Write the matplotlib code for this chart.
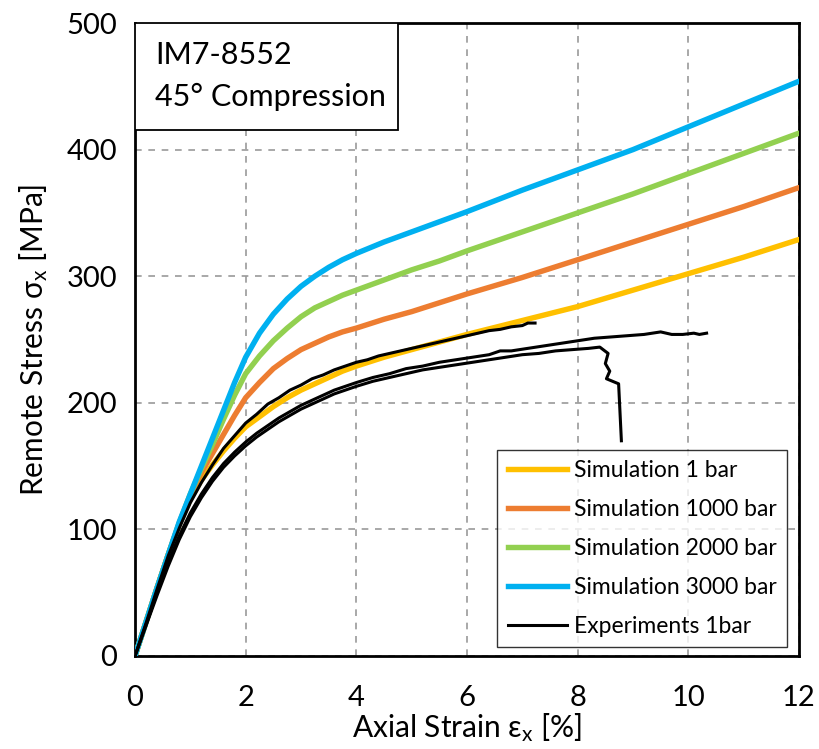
import matplotlib
matplotlib.use("Agg")
import matplotlib.pyplot as plt
from matplotlib.lines import Line2D
from matplotlib.patches import Rectangle

plt.rcParams['font.family'] = ['Lato', 'DejaVu Sans']
plt.rcParams['mathtext.fontset'] = 'custom'
plt.rcParams['mathtext.rm'] = 'Lato'
plt.rcParams['mathtext.it'] = 'Lato:italic'

# ---- data ----
sim_strain = [0, 0.2, 0.4, 0.6, 0.8, 1.0, 1.2, 1.4, 1.6, 1.8, 2.0, 2.25, 2.5, 2.75, 3.0,
              3.25, 3.5, 3.75, 4.0, 4.5, 5, 5.5, 6, 7, 8, 9, 10, 11, 12]
sim_1bar = [0, 27, 54, 80, 104, 124, 139, 151, 162, 172, 181, 189, 197, 204, 210,
            215, 220, 225, 229, 236, 242, 248, 254, 265, 276, 289, 302, 315, 329]
sim_1000 = [0, 27, 54, 80, 105, 127, 145, 160, 175, 190, 204, 216, 227, 235, 242,
            247, 252, 256, 259, 266, 272, 279, 286, 299, 313, 327, 341, 355, 370]
sim_2000 = [0, 27, 54, 80, 105, 128, 148, 167, 187, 206, 223, 237, 249, 259, 268,
            275, 280, 285, 289, 297, 305, 312, 320, 335, 350, 365, 381, 397, 413]
sim_3000 = [0, 27, 54, 80, 106, 128, 150, 172, 194, 216, 236, 255, 270, 282, 292,
            300, 307, 313, 318, 327, 335, 343, 351, 368, 384, 400, 418, 436, 454]

expA_strain = [0, 0.2, 0.4, 0.6, 0.8, 1.0, 1.2, 1.4, 1.6, 1.8, 2.0, 2.2, 2.4, 2.6, 2.8,
               3.0, 3.2, 3.4, 3.6, 3.8, 4.0, 4.2, 4.4, 4.6, 4.8, 5.0, 5.2, 5.4, 5.6, 5.8,
               6.0, 6.2, 6.4, 6.6, 6.8, 7.0, 7.1, 7.23]
expA_stress = [0, 26, 53, 79, 101, 121, 137, 151, 164, 174, 184, 191, 199, 204, 210,
               214, 219, 222, 226, 229, 232, 234, 237, 239, 241, 243, 245, 247, 249, 251,
               253, 255, 257, 258, 260, 261, 263, 263]

expB_strain = [0, 0.2, 0.4, 0.6, 0.8, 1.0, 1.2, 1.4, 1.6, 1.8, 2.0, 2.2, 2.4, 2.6, 2.8,
               3.0, 3.2, 3.4, 3.6, 3.8, 4.0, 4.3, 4.6, 4.9, 5.2, 5.5, 5.8, 6.1, 6.4, 6.6,
               6.8, 7.1, 7.4, 7.7, 8.0, 8.3, 8.6, 8.9, 9.2, 9.5, 9.7, 9.9, 10.1, 10.2, 10.33]
expB_stress = [0, 25, 50, 74, 95, 113, 128, 141, 152, 161, 169, 176, 182, 188, 193,
               198, 202, 206, 210, 213, 216, 220, 223, 227, 229, 232, 234, 236, 238, 241,
               241, 243, 245, 247, 249, 251, 252, 253, 254, 256, 254, 254, 255, 254, 255]

expC_strain = [0, 0.2, 0.4, 0.6, 0.8, 1.0, 1.2, 1.4, 1.6, 1.8, 2.0, 2.2, 2.4, 2.6, 2.8,
               3.0, 3.2, 3.4, 3.6, 3.8, 4.0, 4.3, 4.6, 4.9, 5.2, 5.5, 5.8, 6.1, 6.4, 6.7,
               7.0, 7.3, 7.6, 7.9, 8.2, 8.4, 8.55, 8.5, 8.58, 8.52, 8.74, 8.79]
expC_stress = [0, 24, 48, 71, 92, 110, 125, 138, 149, 158, 166, 173, 179, 185, 190,
               195, 199, 203, 207, 210, 213, 217, 220, 223, 226, 228, 230, 232, 234, 236,
               238, 239, 241, 242, 243, 244, 239, 231, 225, 219, 215, 170]

labels = ["Simulation 1 bar", "Simulation 1000 bar", "Simulation 2000 bar",
          "Simulation 3000 bar", "Experiments 1bar"]
colors = ["#FFC000", "#ED7D31", "#92D050", "#00B0F0", "#000000"]

# ---- figure ----
fig = plt.figure(figsize=(8.19, 7.49), dpi=100)
ax = fig.add_axes([135/819, 1-656/749, (799-135)/819, (656-23)/749])

SLW = 3.9
ELW = 2.2
for ys, c in zip([sim_1bar, sim_1000, sim_2000, sim_3000], colors[:4]):
    ax.plot(sim_strain, ys, color=c, lw=SLW, solid_capstyle='round',
            solid_joinstyle='round', zorder=3)
for xs, ys in [(expA_strain, expA_stress), (expB_strain, expB_stress), (expC_strain, expC_stress)]:
    ax.plot(xs, ys, color='black', lw=ELW, solid_joinstyle='round', zorder=4)

ax.set_xlim(0, 12)
ax.set_ylim(0, 500)
ax.set_xticks([0, 2, 4, 6, 8, 10, 12])
ax.set_yticks([0, 100, 200, 300, 400, 500])
ax.grid(True, color='#999999', linestyle=(0, (4, 4)), linewidth=1.2)
for s in ax.spines.values():
    s.set_color('black')
    s.set_linewidth(2.0)
ax.tick_params(axis='both', labelsize=21, length=0)
ax.tick_params(axis='x', pad=21)
ax.tick_params(axis='y', pad=13)

ax.set_xlabel("Axial Strain ε$_\\mathrm{x}$ [%]", fontsize=21.5, labelpad=0)
ax.set_ylabel("Remote Stress σ$_\\mathrm{x}$ [MPa]", fontsize=21.5, labelpad=12)

# title box in upper left
ax.add_patch(Rectangle((0, 1 - (130-23)/633), (398-135)/664, (130-23)/633,
                       transform=ax.transAxes, facecolor='white', edgecolor='black',
                       linewidth=1.3, zorder=6))
ax.text(20/664, 1 - (55-23)/633, "IM7-8552", transform=ax.transAxes, fontsize=22,
        va='center', ha='left', zorder=7)
ax.text(20/664, 1 - (97-23)/633, "45° Compression", transform=ax.transAxes, fontsize=22,
        va='center', ha='left', zorder=7)

handles = [Line2D([0], [0], color=c, lw=(SLW if i < 4 else ELW)) for i, c in enumerate(colors)]
leg = ax.legend(handles, labels, loc='lower right', bbox_to_anchor=(0.982, 0.014), fontsize=16.5,
                frameon=True, fancybox=False, edgecolor='black', handlelength=2.6,
                labelspacing=0.78, borderpad=0.45, handletextpad=0.3, borderaxespad=0)
leg.get_frame().set_linewidth(1.0)
leg.set_zorder(7)

fig.savefig("out.png", dpi=100)
